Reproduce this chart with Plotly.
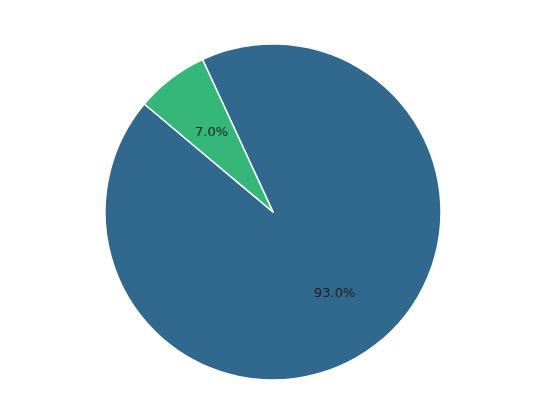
import math

import plotly.graph_objects as go

labels = ['A', 'B']
values = [93.0, 7.0]
colors = ['#31688e', '#35b779']
start_angle = 140  # degrees from 3 o'clock, counterclockwise
pct_distance = 0.6

# pie box in paper coords (page body adds an 8px offset)
x0, x1 = 97 / 556, 433 / 556
y0, y1 = 30 / 402, 366 / 402

total = sum(values)
# plotly keeps the first slice on the clockwise side of `rotation`
first_span = 360 * values[0] / total
rotation = (90 - start_angle - first_span) % 360
if rotation > 180:
    rotation -= 360

fig = go.Figure()
fig.add_trace(go.Pie(
    labels=labels,
    values=values,
    sort=False,
    direction='counterclockwise',
    rotation=rotation,
    marker=dict(colors=colors, line=dict(color='white', width=1.5)),
    textinfo='none',
    hoverinfo='label+percent',
    showlegend=False,
    domain=dict(x=[x0, x1], y=[y0, y1]),
))

# percentage labels at 0.6 of the radius, like autopct
cx, cy = (x0 + x1) / 2, (y0 + y1) / 2
rx, ry = (x1 - x0) / 2, (y1 - y0) / 2
angle = start_angle
for v in values:
    span = 360 * v / total
    mid = math.radians(angle + span / 2)
    fig.add_annotation(
        x=cx + pct_distance * rx * math.cos(mid),
        y=cy + pct_distance * ry * math.sin(mid),
        xref='paper', yref='paper',
        xanchor='center', yanchor='middle',
        text=f'{100 * v / total:.1f}%',
        showarrow=False,
        font=dict(family='DejaVu Sans', size=13, color='#222222'),
    )
    angle += span

fig.update_layout(
    width=556,
    height=402,
    margin=dict(l=0, r=0, t=0, b=0),
    paper_bgcolor='white',
    plot_bgcolor='white',
)

fig.write_html('out.html')
